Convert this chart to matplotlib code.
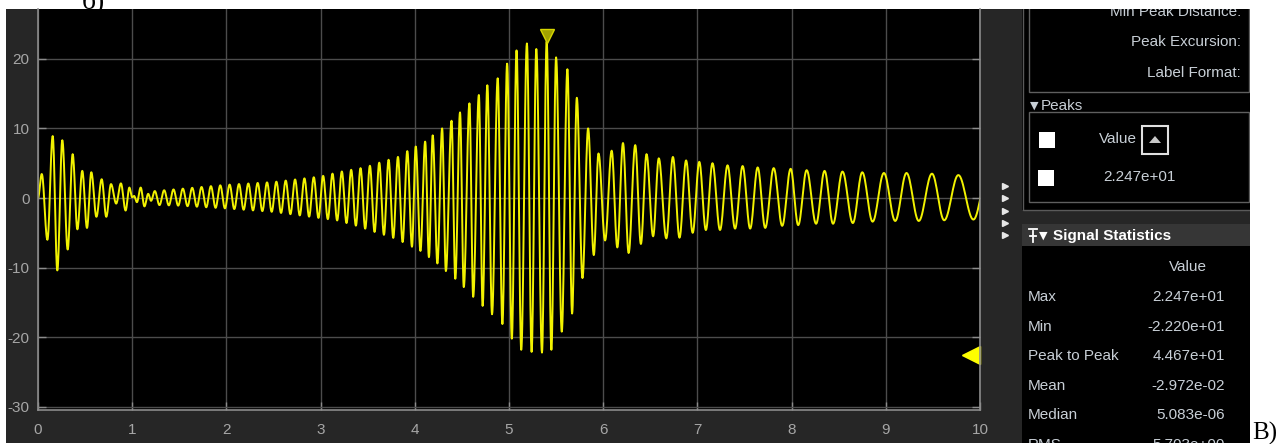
import numpy as np
import matplotlib
matplotlib.use('Agg')
import matplotlib.pyplot as plt
from matplotlib.patches import Rectangle, Polygon

plt.rcParams['axes.unicode_minus'] = False

W, H = 1276, 444
UI = ['Liberation Sans', 'DejaVu Sans']
SERIF = ['Liberation Serif', 'DejaVu Serif']

# --- signal, read from the scope trace as local extremes (time [s], value) ---
# start-up transient
early_t = [0.0, 0.04, 0.10, 0.156, 0.205, 0.258, 0.315, 0.368, 0.418, 0.47,
           0.52, 0.566, 0.62, 0.676, 0.725, 0.775, 0.83, 0.88, 0.93, 0.97,
           1.0, 1.02, 1.05, 1.09, 1.13, 1.17, 1.2, 1.24]
early_v = [0.0, 3.45, -6.0, 8.9, -10.4, 8.3, -7.4, 6.3, -4.5, 3.9,
           -4.3, 3.7, -2.7, 2.7, -2.7, 2.0, -0.8, 2.1, -1.8, 1.5,
           0.1, 0.3, -0.6, 1.5, -1.2, 0.6, -0.4, 1.0]

# slow build-up (too dense to read cycle by cycle): envelope + number of half cycles
mid_half_cycles = 55
mid_up_t = [1.24, 1.5, 2.0, 2.5, 3.0, 3.22, 3.47, 3.65, 3.82, 4.0]
mid_up_v = [1.0, 1.3, 1.9, 2.3, 3.1, 3.8, 4.4, 5.2, 5.9, 7.4]
mid_lo_t = [1.24, 1.5, 2.0, 2.5, 3.0, 3.17, 3.41, 3.6, 3.75, 3.9, 3.97]
mid_lo_v = [-1.0, -1.1, -1.5, -2.0, -2.9, -3.2, -4.1, -5.0, -5.6, -6.5, -7.0]

# resonance and tail
late_t = [3.97, 4.01, 4.06, 4.11, 4.15, 4.19, 4.24, 4.29, 4.33, 4.39,
          4.43, 4.48, 4.52, 4.58, 4.62, 4.68, 4.72, 4.77, 4.82, 4.88,
          4.93, 4.98, 5.03, 5.08, 5.13, 5.19, 5.24, 5.29, 5.35, 5.40,
          5.45, 5.50, 5.56, 5.62, 5.67, 5.72, 5.78, 5.84, 5.90, 5.95,
          6.02, 6.09, 6.15, 6.21, 6.27, 6.34, 6.40, 6.46, 6.53, 6.59,
          6.67, 6.74, 6.81, 6.88, 6.95, 7.02, 7.09, 7.16, 7.24, 7.32,
          7.40, 7.48, 7.56, 7.64, 7.72, 7.81, 7.90, 7.99, 8.07, 8.16,
          8.26, 8.35, 8.44, 8.54, 8.65, 8.75, 8.86, 8.98, 9.10, 9.22,
          9.35, 9.49, 9.62, 9.77, 9.93, 10.08]
late_v = [-7.0, 7.4, -7.6, 8.1, -8.5, 9.0, -9.4, 10.0, -10.5, 11.1,
          -11.6, 12.3, -12.8, 13.6, -14.2, 14.8, -15.5, 16.2, -16.7, 17.2,
          -18.1, 19.3, -20.2, 21.2, -21.8, 22.2, -22.1, 21.4, -22.2, 22.47,
          -21.8, 20.2, -19.2, 18.5, -16.6, 14.4, -11.5, 10.0, -8.2, 6.4,
          -6.1, 6.8, -7.1, 7.9, -7.9, 7.6, -6.6, 6.3, -5.5, 5.7,
          -5.8, 5.9, -5.7, 5.4, -5.0, 5.2, -4.6, 5.0, -4.6, 4.7,
          -4.4, 4.6, -4.4, 4.4, -4.3, 4.3, -4.0, 4.2, -3.9, 4.0,
          -3.7, 3.9, -3.7, 3.8, -3.6, 3.7, -3.4, 3.6, -3.3, 3.6,
          -3.3, 3.5, -3.2, 3.3, -3.1, 3.2]

peak_t, peak_v = 5.40, 22.47
trigger_level = -22.55

top_labels = ['Min Peak Distance:', 'Peak Excursion:', 'Label Format:']
peaks_value = '2.247e+01'
stat_names = ['Max', 'Min', 'Peak to Peak', 'Mean', 'Median', 'RMS']
stat_values = ['2.247e+01', '-2.220e+01', '4.467e+01', '-2.972e-02', '5.083e-06', '5.703e+00']

# --- build trace: half-cosine between consecutive extremes ---
mid_t = np.linspace(early_t[-1], late_t[0], mid_half_cycles + 1)[1:-1]
mid_v = [np.interp(tt, mid_up_t, mid_up_v) if i % 2 == 0 else np.interp(tt, mid_lo_t, mid_lo_v)
         for i, tt in enumerate(mid_t, start=1)]
ext_t = np.concatenate([early_t, mid_t, late_t])
ext_v = np.concatenate([early_v, mid_v, late_v])
s = np.linspace(0, 1, 16, endpoint=False)
t_list, y_list = [], []
for k in range(len(ext_t) - 1):
    t_list.append(ext_t[k] + (ext_t[k + 1] - ext_t[k]) * s)
    y_list.append(ext_v[k] + (ext_v[k + 1] - ext_v[k]) * (1 - np.cos(np.pi * s)) / 2)
t = np.concatenate(t_list)
y = np.concatenate(y_list)

fig = plt.figure(figsize=(W / 100, H / 100), dpi=100)
fig.patch.set_facecolor('white')

# background / panel in pixel coordinates
bg = fig.add_axes([0, 0, 1, 1], zorder=0)
bg.set_xlim(0, W)
bg.set_ylim(H, 0)
bg.axis('off')


def rect(x0, y0, x1, y1, fc='none', ec='none', lw=1.0, z=1):
    bg.add_patch(Rectangle((x0, y0), x1 - x0, y1 - y0, facecolor=fc, edgecolor=ec, lw=lw, zorder=z))


rect(6, 9, 1250, 443, fc='#262626')
# measurement section (peak finder)
rect(1022, 0, 1250, 210, fc='black', z=2)
bg.plot([1022.5, 1022.5, 1250], [0, 210, 210], color='#5a5a5a', lw=1, zorder=3)
rect(1029, 0, 1249, 92, ec='#5f5f5f', z=3)
rect(1029, 112, 1249, 202, ec='#5f5f5f', z=3)
for i, lab in enumerate(top_labels):
    bg.text(1241, 12 + 30.5 * i, lab, ha='right', va='center', fontsize=11, color='#c8cfd6', family=UI, zorder=4)
bg.text(1030, 106, '▼', ha='left', va='center', fontsize=8, color='#c8cfd6', family=['DejaVu Sans'], zorder=4)
bg.text(1041, 106, 'Peaks', ha='left', va='center', fontsize=11, color='#c8cfd6', family=UI, zorder=4)
rect(1039, 132, 1055, 148, fc='white', z=4)
rect(1038, 170, 1054, 186, fc='white', z=4)
bg.text(1099, 139, 'Value', ha='left', va='center', fontsize=11, color='#c8cfd6', family=UI, zorder=4)
rect(1142, 126, 1168, 154, ec='#e0e0e0', lw=1.5, z=4)
bg.add_patch(Polygon([(1149, 143), (1161, 143), (1155, 136)], closed=True, fc='#c8c8c8', ec='none', zorder=5))
bg.text(1103, 177, peaks_value, ha='left', va='center', fontsize=11, color='#c8cfd6', family=UI, zorder=4)

# signal statistics section
rect(1022, 224, 1250, 246, fc='#363636', z=2)
rect(1022, 246, 1250, 444, fc='black', z=2)
bg.plot([1029, 1037], [229, 229], color='white', lw=1.3, zorder=4)
bg.plot([1033, 1033], [231, 242], color='white', lw=1.3, zorder=4)
bg.plot([1030, 1036], [236, 236], color='white', lw=1.3, zorder=4)
bg.text(1039, 236, '▼', ha='left', va='center', fontsize=8, color='white', family=['DejaVu Sans'], zorder=4)
bg.text(1053, 236, 'Signal Statistics', ha='left', va='center', fontsize=11, fontweight='bold',
        color='white', family=UI, zorder=4)
bg.text(1188, 267, 'Value', ha='center', va='center', fontsize=11, color='#c8cfd6', family=UI, zorder=4)
for i, (nm, val) in enumerate(zip(stat_names, stat_values)):
    yy = 297 + 29.5 * i
    bg.text(1028, yy, nm, ha='left', va='center', fontsize=11, color='#c8cfd6', family=UI, zorder=4)
    bg.text(1225, yy, val, ha='right', va='center', fontsize=11, color='#c8cfd6', family=UI, zorder=4)

# collapse arrows between plot and panel
bg.plot([1005] * 5, [186, 198, 211, 223, 235], linestyle='none', marker='>', ms=5,
        color='#e6e6e6', zorder=3)

# white page margins and figure captions
rect(0, 0, W, 9, fc='white', z=10)
rect(1250, 0, W, H, fc='white', z=10)
rect(0, 443, W, H, fc='white', z=10)
bg.text(82, 8, 'б)', ha='left', va='baseline', fontsize=20, color='black', family=SERIF, zorder=11)
bg.text(1252, 440, 'В)', ha='left', va='baseline', fontsize=18, color='black', family=SERIF, zorder=11)

# scope axes
ax = fig.add_axes([38 / W, (H - 410) / H, 942 / W, 401 / H], zorder=2)
ax.set_facecolor('black')
ax.plot(t, y, color='#f2f200', lw=1.4)
ax.plot(peak_t, peak_v + 0.8, marker='v', ms=10, mfc='#a3a300', mec='#d6d600', mew=1, linestyle='none')
ax.plot(9.905, trigger_level, marker='<', ms=13.5, color='#ffff00', linestyle='none', clip_on=False)
ax.set_xlim(0, 10)
ax.set_ylim(-30.45, 27.15)
ax.set_xticks(range(11))
ax.set_yticks([-30, -20, -10, 0, 10, 20])
ax.grid(True, color='#4c4c4c', lw=1)
ax.set_axisbelow(True)
for side in ['left', 'bottom', 'right']:
    ax.spines[side].set_color('#8c8c8c')
    ax.spines[side].set_linewidth(1.2)
ax.spines['top'].set_visible(False)
ax.tick_params(direction='in', length=6, width=1, color='#8c8c8c', labelcolor='#a6a6a6', labelsize=11, right=True)
ax.tick_params(axis='y', pad=6)
ax.tick_params(axis='x', pad=9)
for lab in ax.get_xticklabels() + ax.get_yticklabels():
    lab.set_family(UI)

fig.savefig('out.png', dpi=100, facecolor='white')
